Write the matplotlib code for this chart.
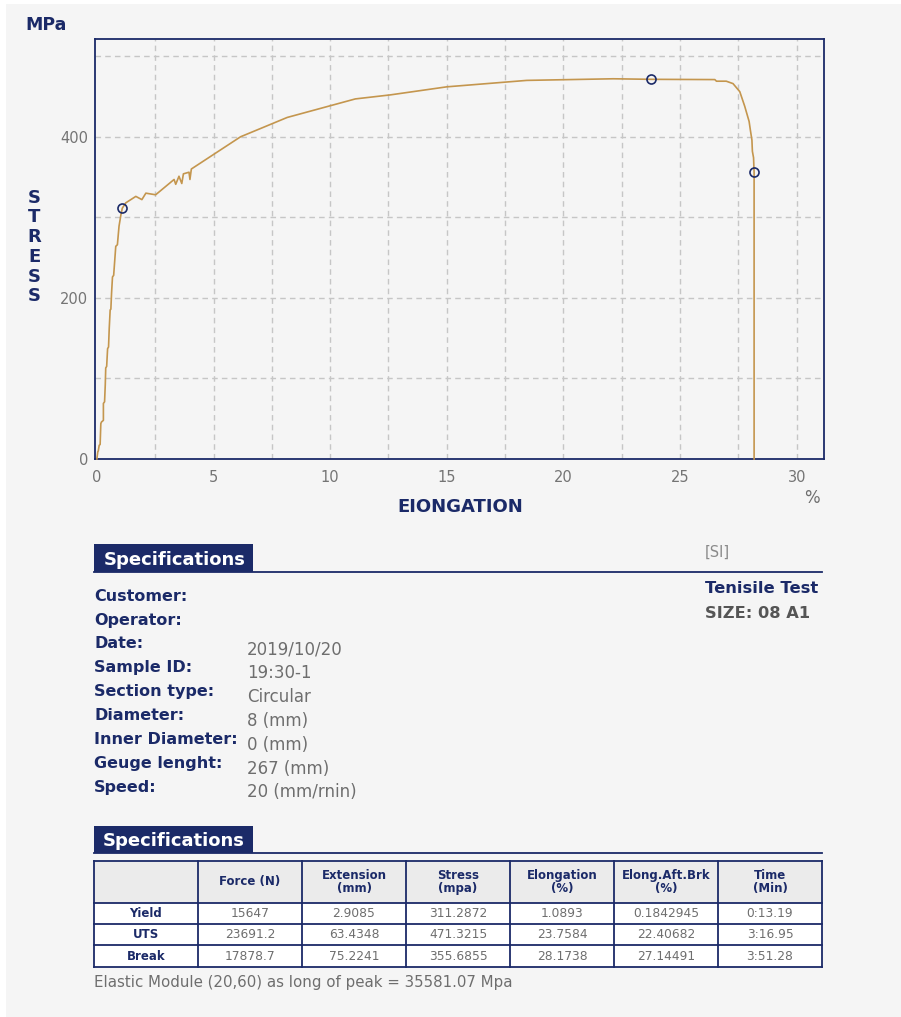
import matplotlib
matplotlib.use("Agg")
import matplotlib.pyplot as plt
from matplotlib.patches import Rectangle

# ---------------- data ----------------
elongation = [0, 0.04, 0.06, 0.10, 0.14, 0.17, 0.20, 0.24, 0.28, 0.28, 0.33, 0.36, 0.38, 0.42, 0.46,
              0.50, 0.53, 0.57, 0.60, 0.63, 0.67, 0.72, 0.81, 0.88, 0.95, 1.03, 1.0893, 1.24, 1.67,
              1.93, 2.10, 2.52, 3.31, 3.38, 3.52, 3.64, 3.71, 3.95, 3.99, 4.05, 6.16, 8.16, 11.08,
              12.58, 15.0, 18.43, 22.14, 23.7584, 26.49, 26.56, 26.98, 27.27, 27.56, 27.77, 27.96,
              28.01, 28.08, 28.10, 28.15, 28.1738, 28.1738]
stress = [0, 9, 10, 17, 18, 44, 46, 47, 48, 69, 71, 92, 113, 115, 137,
          139, 162, 185, 186, 206, 226, 228, 264, 266, 289, 303, 311.29, 318, 326,
          322, 330, 328, 347, 341, 351, 342, 354, 356, 347, 360, 400, 424, 447,
          452, 462, 470, 472, 471.32, 471, 469, 469, 466, 456, 438, 419,
          409, 396, 382, 374, 355.69, 0]

point_names = ["Yield", "UTS", "Break"]
point_elong = [1.0893, 23.7584, 28.1738]
point_stress = [311.2872, 471.3215, 355.6855]

xticks = [0, 5, 10, 15, 20, 25, 30]
yticks = [0, 200, 400]
xgrid = [2.5, 5, 7.5, 10, 12.5, 15, 17.5, 20, 22.5, 25, 27.5, 30]
ygrid = [100, 200, 300, 400, 500]

spec_labels = ["Customer:", "Operator:", "Date:", "Sample ID:", "Section type:", "Diameter:",
               "Inner Diameter:", "Geuge lenght:", "Speed:"]
spec_values = ["", "", "2019/10/20", "19:30-1", "Circular", "8 (mm)", "0 (mm)", "267 (mm)",
               "20 (mm/rnin)"]

table_header = ["", "Force (N)", "Extension\n(mm)", "Stress\n(mpa)", "Elongation\n(%)",
                "Elong.Aft.Brk\n(%)", "Time\n(Min)"]
force = ["15647", "23691.2", "17878.7"]
extension = ["2.9085", "63.4348", "75.2241"]
stress_tab = ["311.2872", "471.3215", "355.6855"]
elong_tab = ["1.0893", "23.7584", "28.1738"]
elong_brk = ["0.1842945", "22.40682", "27.14491"]
time_min = ["0:13.19", "3:16.95", "3:51.28"]

footer = "Elastic Module (20,60) as long of peak = 35581.07 Mpa"

# ---------------- style ----------------
NAVY = "#1b2a68"
GRAY = "#6e6e6e"
CURVE = "#c4964e"
BG = "#f5f5f5"
plt.rcParams['font.family'] = ['DejaVu Sans']

W, H = 901, 1017
fig = plt.figure(figsize=(W / 100, H / 100), dpi=100)
fig.patch.set_facecolor("white")

# overlay in pixel coordinates
ov = fig.add_axes([0, 0, 1, 1], zorder=0)
ov.set_xlim(0, W)
ov.set_ylim(H, 0)
ov.axis("off")
ov.add_patch(Rectangle((6, 4), W - 6, H - 4, facecolor=BG, edgecolor="none"))

# ---------------- chart ----------------
L, R, T, B = 95, 824, 38.5, 459
ax = fig.add_axes([L / W, 1 - B / H, (R - L) / W, (B - T) / H], zorder=2)
ax.set_facecolor(BG)
ax.set_xlim(-0.08, 31.17)
ax.set_ylim(0, 522)
ax.set_xticks(xticks)
ax.set_yticks(yticks)
ax.tick_params(axis="both", which="both", length=0, labelcolor="#747474", labelsize=10.5)
ax.tick_params(axis="x", pad=8)
ax.tick_params(axis="y", pad=5)
for gx in xgrid:
    ax.axvline(gx, color="#c6c6c6", linestyle=(0, (4, 3)), linewidth=1.0, zorder=1)
for gy in ygrid:
    ax.axhline(gy, color="#c6c6c6", linestyle=(0, (4, 3)), linewidth=1.0, zorder=1)
for s in ax.spines.values():
    s.set_color(NAVY)
    s.set_linewidth(1.3)

ax.plot(elongation, stress, color=CURVE, linewidth=1.2, zorder=3, clip_on=False)
ax.plot(point_elong, point_stress, linestyle="none", marker="o", markersize=6.5,
        markerfacecolor="none", markeredgecolor=NAVY, markeredgewidth=1.2, zorder=4)

# axis titles
ov.text(25, 25, "MPa", color=NAVY, fontsize=12.5, fontweight="bold", ha="left", va="center")
ov.text(34, 247, "S\nT\nR\nE\nS\nS", color=NAVY, fontsize=13, fontweight="bold",
        ha="center", va="center", linespacing=1.12)
ov.text(460, 507, "EIONGATION", color=NAVY, fontsize=13, fontweight="bold", ha="center", va="center")
ov.text(812, 498, "%", color=GRAY, fontsize=12, ha="center", va="center")

# ---------------- specifications block ----------------
def header(y_top, y_bot, x_text, base):
    ov.add_patch(Rectangle((94, y_top), 253 - 94, y_bot - y_top, facecolor=NAVY, edgecolor="none"))
    ov.plot([94, 822], [y_bot, y_bot], color=NAVY, linewidth=1.3)
    ov.text(x_text, base, "Specifications", color="white", fontsize=13, fontweight="bold",
            ha="left", va="baseline")

header(543.5, 571.5, 104, 565)

for i, (lab, val) in enumerate(zip(spec_labels, spec_values)):
    yb = 600.7 + 23.9 * i
    ov.text(94, yb, lab, color=NAVY, fontsize=11.5, fontweight="bold", ha="left", va="baseline")
    if val:
        ov.text(247, yb + 5.5, val, color=GRAY, fontsize=12, ha="left", va="baseline")

ov.text(705, 557, "[SI]", color="#8a8a8a", fontsize=10.5, ha="left", va="baseline")
ov.text(705, 593, "Tenisile Test", color=NAVY, fontsize=11.8, fontweight="bold", ha="left", va="baseline")
ov.text(705, 618, "SIZE: 08 A1", color="#555555", fontsize=11.7, fontweight="bold", ha="left", va="baseline")

# ---------------- results table ----------------
header(826, 853, 103, 846.5)

col_x = [94 + 104 * i for i in range(8)]
row_y = [861, 903, 924, 945, 967]
ov.add_patch(Rectangle((94, 861), 728, 42, facecolor="#ebebeb", edgecolor="none"))
ov.add_patch(Rectangle((94, 903), 728, 64, facecolor="white", edgecolor="none"))
for x in col_x:
    ov.plot([x, x], [861, 967], color=NAVY, linewidth=1.3, solid_capstyle="projecting")
for y in row_y:
    ov.plot([94, 822], [y, y], color=NAVY, linewidth=1.3, solid_capstyle="projecting")

for j, h in enumerate(table_header):
    ov.text(col_x[j] + 52, 882, h, color=NAVY, fontsize=8.5, fontweight="bold",
            ha="center", va="center", linespacing=0.95)

columns = [force, extension, stress_tab, elong_tab, elong_brk, time_min]
for r, name in enumerate(point_names):
    yc = (row_y[r + 1] + row_y[r + 2]) / 2
    ov.text(col_x[0] + 52, yc, name, color=NAVY, fontsize=8.5, fontweight="bold", ha="center", va="center")
    for c, colvals in enumerate(columns):
        ov.text(col_x[c + 1] + 52, yc, colvals[r], color=GRAY, fontsize=8.8, ha="center", va="center")

ov.text(94, 987, footer, color=GRAY, fontsize=10.8, ha="left", va="baseline")

fig.savefig("out.png", dpi=100, facecolor=fig.get_facecolor())
